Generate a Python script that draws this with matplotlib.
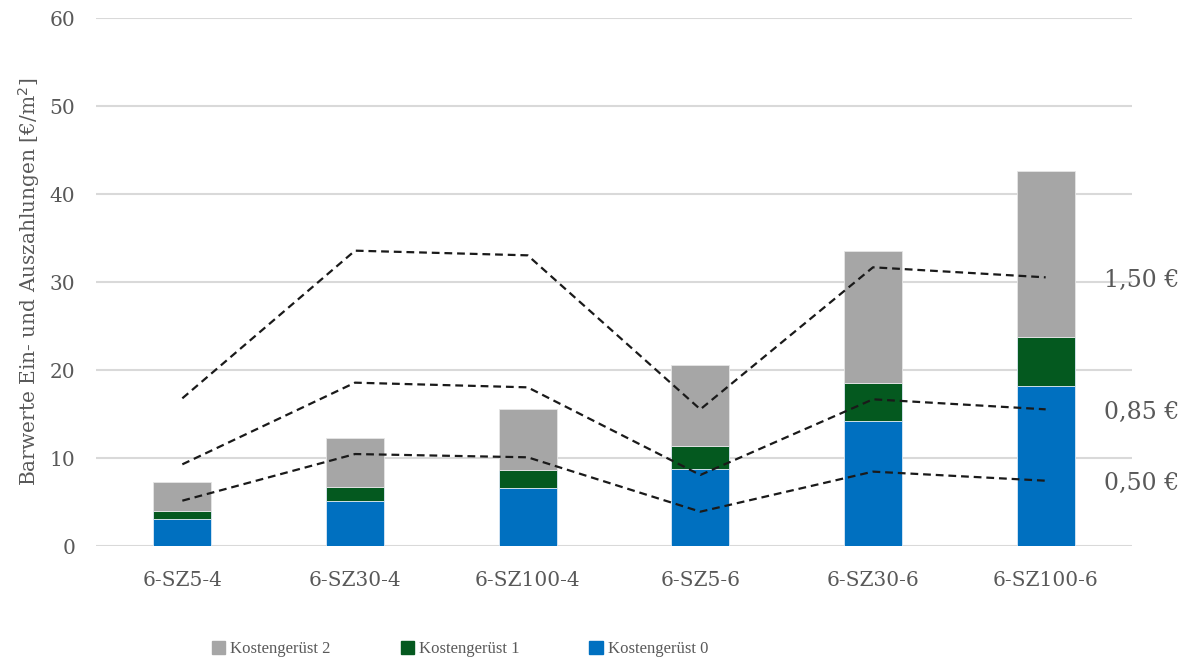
import matplotlib
matplotlib.use("Agg")
import matplotlib.pyplot as plt
from matplotlib.patches import Patch
import numpy as np

categories = ["6-SZ5-4", "6-SZ30-4", "6-SZ100-4", "6-SZ5-6", "6-SZ30-6", "6-SZ100-6"]

# Stacked cost components [€/m²]
kosten0 = [3.03, 5.15, 6.55, 8.75, 14.20, 18.15]
kosten1 = [0.98, 1.52, 2.05, 2.65, 4.32, 5.55]
kosten2 = [3.23, 5.64, 7.01, 9.13, 15.04, 18.88]

# Revenue lines for different prices
price_labels = ["1,50 €", "0,85 €", "0,50 €"]
line_150 = [16.78, 33.56, 33.03, 15.53, 31.67, 30.53]
line_085 = [9.28, 18.56, 18.03, 8.07, 16.67, 15.53]
line_050 = [5.15, 10.45, 10.08, 3.90, 8.45, 7.42]

c_blue = "#0070c0"
c_green = "#04591f"
c_gray = "#a6a6a6"
txt = "#595959"
font = "DejaVu Serif"

fig = plt.figure(figsize=(11.94, 6.64), dpi=100)
ax = fig.add_axes([96 / 1194, 1 - 546 / 664, (1132 - 96) / 1194, (546 - 18) / 664])

x = np.arange(len(categories))
w = 0.335
b0 = np.array(kosten0)
b1 = b0 + np.array(kosten1)
ax.bar(x, kosten0, w, color=c_blue, edgecolor="#dce9f5", linewidth=0.6, zorder=2)
ax.bar(x, kosten1, w, bottom=b0, color=c_green, edgecolor="#dce9f5", linewidth=0.6, zorder=2)
ax.bar(x, kosten2, w, bottom=b1, color=c_gray, edgecolor="#e6e6e6", linewidth=0.6, zorder=2)

for vals in (line_150, line_085, line_050):
    ax.plot(x, vals, color="#1a1a1a", lw=1.6, dashes=(3.5, 2.2), zorder=3)

for lab, vals in zip(price_labels, (line_150, line_085, line_050)):
    ax.text(5.34, vals[-1] - 0.35, lab, fontsize=17, color=txt, family=font,
            va="center", ha="left", clip_on=False)

ax.set_xlim(-0.5, 5.5)
ax.set_ylim(0, 60)
ax.set_yticks(range(0, 61, 10))
ax.set_xticks(x)
ax.set_xticklabels(categories)
ax.grid(axis="y", color="#d9d9d9", lw=1.5, zorder=0)
ax.set_axisbelow(True)
for s in ax.spines.values():
    s.set_visible(False)
ax.tick_params(length=0, labelsize=14.5, labelcolor=txt)
ax.tick_params(axis="x", pad=18)
ax.tick_params(axis="y", pad=15)
for t in ax.get_xticklabels() + ax.get_yticklabels():
    t.set_family(font)

ax.set_ylabel("Barwerte Ein- und Auszahlungen [€/m$^2$]", fontsize=14.5, color=txt,
              family=font, labelpad=5)

handles = [Patch(color=c_gray), Patch(color=c_green), Patch(color=c_blue)]
labels = ["Kostengerüst 2", "Kostengerüst 1", "Kostengerüst 0"]
fig.legend(handles, labels, loc="center", bbox_to_anchor=(460 / 1194, 1 - 649 / 664),
           ncol=3, frameon=False, handlelength=0.8, handleheight=0.8,
           handletextpad=0.3, columnspacing=4.2,
           prop={"family": "Liberation Serif", "size": 12}, labelcolor=txt)

fig.savefig("out.png", dpi=100)
